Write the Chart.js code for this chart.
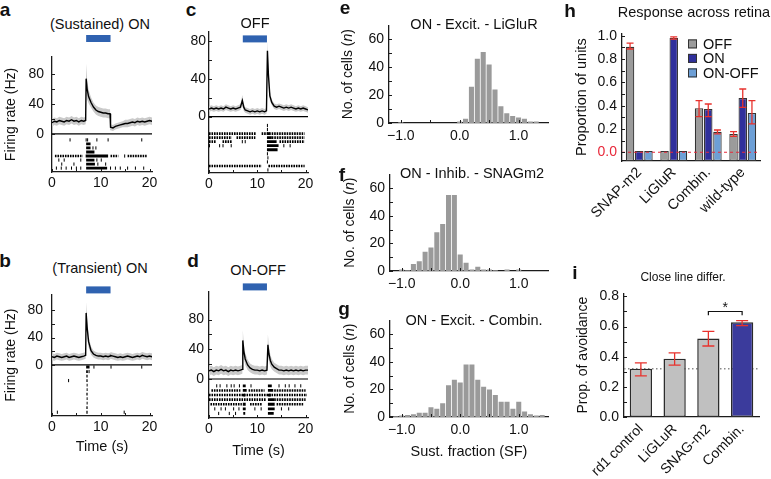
<!DOCTYPE html>
<html>
<head>
<meta charset="utf-8">
<title>Retina responses</title>
<script src="https://cdn.jsdelivr.net/npm/chart.js@4.4.1/dist/chart.umd.min.js"></script>
<style>
  html, body { margin: 0; padding: 0; background: #fff; }
  #fig { position: relative; width: 771px; height: 479px; overflow: hidden;
         font-family: "Liberation Sans", Arial, Helvetica, sans-serif; color: #111; }
  #fig canvas { position: absolute; }
  .t { position: absolute; transform: translate(-50%, -50%); white-space: nowrap; font-size: 14.5px; line-height: 1; }
  .p { position: absolute; transform: translate(-50%, -50%); font-size: 19px; font-weight: bold; line-height: 1; }
</style>
</head>
<body>
<div id="fig">
  <canvas id="cA"></canvas><canvas id="cB"></canvas><canvas id="cC"></canvas><canvas id="cD"></canvas>
  <canvas id="cE"></canvas><canvas id="cF"></canvas><canvas id="cG"></canvas>
  <canvas id="cH"></canvas><canvas id="cI"></canvas>

  <div class="p" style="left:5px;top:9px">a</div>
  <div class="p" style="left:5px;top:260px">b</div>
  <div class="p" style="left:191px;top:9px">c</div>
  <div class="p" style="left:193px;top:260px">d</div>
  <div class="p" style="left:345px;top:7px">e</div>
  <div class="p" style="left:342px;top:174px">f</div>
  <div class="p" style="left:344px;top:308px">g</div>
  <div class="p" style="left:570px;top:10px">h</div>
  <div class="p" style="left:575px;top:272px">i</div>

  <div class="t" style="left:100px;top:24px">(Sustained) ON</div>
  <div class="t" style="left:100px;top:268px">(Transient) ON</div>
  <div class="t" style="left:255px;top:23px">OFF</div>
  <div class="t" style="left:258px;top:270px">ON-OFF</div>
  <div class="t" style="left:474px;top:24px">ON - Excit. - LiGluR</div>
  <div class="t" style="left:472px;top:173px">ON - Inhib. - SNAGm2</div>
  <div class="t" style="left:474px;top:320px">ON - Excit. - Combin.</div>
  <div class="t" style="left:694px;top:12px">Response across retina</div>
  <div class="t" style="left:683px;top:277px;font-size:12px">Close line differ.</div>
</div>

<script>
// ---------- data: firing-rate panels (a-d) ----------
const stimulus = [7, 12];
const traceXTicks = [0, 5, 10, 15, 20];
const traceYTicks = [0, 20, 40, 60, 80];

const abTime = [0,0.5,1,1.5,2,2.5,3,3.5,4,4.5,5,5.5,6,6.5,6.9,7,7.2,7.5,8,8.5,9,9.5,10,10.5,11,11.5,11.9,12,
                12.5,13,13.5,14,14.5,15,15.5,16,16.5,17,17.5,18,18.5,19,19.5,20,20.5];
const aRate = [15,17,16,18,17,16,18,17,19,17,18,16,18,17,18,74,60,50,42,36,32,30,29,28,28,27,27,9,
               8,10,11,12,13,14,14,15,16,15,17,16,17,16,17,18,17];
const aSd   = [5,5,5,5,5,5,5,5,5,5,5,5,5,5,5,20,14,9,7,6,6,6,6,6,6,6,6,4,
               4,4,4,4,4,5,5,5,5,5,5,5,5,5,5,5,5];
const bRate = [12,11,13,12,11,12,13,11,12,13,12,11,12,13,14,76,55,34,21,16,14,13,13,12,13,12,13,14,
               13,12,11,12,11,12,13,12,11,12,13,12,14,13,12,13,12];
const bSd   = [5,5,5,5,5,5,5,5,5,5,5,5,5,5,5,16,12,8,6,5,5,5,5,5,5,5,5,5,
               5,5,5,5,5,5,5,5,5,5,5,5,5,5,5,5,5];

const cTime = [0,0.5,1,1.5,2,2.5,3,3.5,4,4.5,5,5.5,6,6.5,6.9,7.2,7.5,8,8.5,9,9.5,10,10.5,11,11.5,11.9,
               12.1,12.3,12.6,13,13.5,14,14.5,15,15.5,16,16.5,17,17.5,18,18.5,19,19.5,20,20.5];
const cRate = [8,9,8,9,8,9,8,10,9,8,9,8,9,10,17,10,7,6,5,6,5,6,5,6,5,6,
               70,45,22,15,11,10,11,10,9,10,9,10,9,8,9,8,9,8,7];
const cSd   = [3,3,3,3,3,3,3,3,3,3,3,3,3,3,6,4,3,3,3,3,3,3,3,3,3,3,
               10,8,5,3,3,3,3,3,3,3,3,3,3,3,3,3,3,3,3];

const dTime = [0,0.5,1,1.5,2,2.5,3,3.5,4,4.5,5,5.5,6,6.5,6.9,7,7.2,7.5,8,8.5,9,9.5,10,10.5,11,11.5,12,
               12.2,12.4,12.7,13,13.5,14,14.5,15,15.5,16,16.5,17,17.5,18,18.5,19,19.5,20,20.5];
const dRate = [11,12,10,12,11,13,11,12,10,12,11,12,11,12,13,52,38,27,19,15,13,12,12,11,12,11,12,
               46,34,25,20,16,14,12,12,11,12,11,12,11,12,11,12,11,12,12];
const dSd   = [6,6,6,6,6,6,6,6,6,6,6,6,6,6,6,14,10,8,7,6,6,6,6,6,6,6,6,
               14,10,8,7,6,6,6,6,6,6,6,6,6,6,6,6,6,6,6];

// raster trials: [row, time] spikes, [row, start, end] bursts and dense firing
const aSpikes = [[0,3.7],[0,7.0],[0,7.3],[0,9.2],[0,11.5],[0,18.4],[2,8.4],[2,9.0],[4,14.9],
                 [5,1.4],[5,2.5],[5,5.9],[5,9.2],[5,10.1],[6,2.0],[6,4.5],[6,9.4],[6,11.0],
                 [7,0.9],[7,1.9],[7,2.9],[7,4.0],[7,5.0],[7,5.9],[7,12.0],[7,13.0],[7,14.0],[7,15.5],[7,17.1],[7,18.8]];
const aBursts = [[1,7.0,7.9],[2,7.0,7.9],[3,7.0,8.7],[4,6.9,11.5],[5,7.0,8.7],[6,7.0,8.8],[7,7.0,11.3]];
const aDense  = [[4,0.6,6.3],[4,12.0,13.6],[4,15.5,19.4]];

const bSpikes = [[0,8.6],[0,12.1],[0,18.4],[1,7.6],[3,3.4],[10,1.1],[10,14.8]];
const bBursts = [[0,7.0,7.7],[1,7.0,7.35],[2,7.05,7.3],[3,7.05,7.3],[4,7.1,7.3],[5,7.1,7.3],[6,7.05,7.3],
                 [7,7.1,7.3],[8,7.1,7.3],[9,7.05,7.3],[10,7.05,7.3]];
const bDense  = [];

const cSpikes = [[0,12.1],[1,12.1],[4,6.9],[4,7.5],[5,0.1],[5,2.2],[5,2.9],[5,4.6],[5,15.5],[5,16.8],
                 [7,12.1],[8,12.2],[9,12.1],[11,12.2]];
const cBursts = [[2,12.0,12.6],[3,12.0,13.0],[4,12.0,14.0],[5,12.0,14.4],[6,12.0,14.2]];
const cDense  = [[2,0,9.8],[2,10.9,19.8],[3,0,4.7],[3,5.7,9.6],[3,13.0,19.8],[4,0,1.4],[4,2.8,4.8],
                 [4,14.6,19.8],[10,0,10.9],[10,12.3,19.8]];

const dSpikes = [[0,1.6],[0,2.3],[0,3.7],[0,4.6],[0,5.2],[0,6.3],[0,8.7],[0,14.5],[0,15.8],[0,16.6],[0,17.8],[0,19.0],
                 [5,1.2],[5,2.5],[5,3.4],[5,5.1],[5,6.2],[5,9.5],[5,10.8],[5,15.0],[5,16.5],[6,2.0],[6,4.2],[6,5.5]];
const dBursts = [[0,7.0,7.6],[0,12.2,13.0],[1,7.0,7.8],[1,12.2,13.3],[2,7.0,7.5],[2,12.2,12.8],[3,12.2,13.5],
                 [4,7.0,7.6],[4,12.2,13.6],[5,7.0,7.6],[5,12.2,13.6],[6,7.1,7.5],[6,12.2,13.4]];
const dDense  = [[1,0.5,6.5],[1,8.2,11.5],[1,13.5,20],[2,0,20.3],[3,0,11.8],[3,13.5,20],[4,0.3,6.8],[4,8.5,11],[4,14,19.5]];

// ---------- data: sustained-fraction histograms (e-g) ----------
const binCenters = [-1.1,-1.0,-0.9,-0.8,-0.7,-0.6,-0.5,-0.4,-0.3,-0.2,-0.1,0.0,0.1,0.2,0.3,0.4,0.5,0.6,0.7,0.8,0.9,1.0,1.1,1.2,1.3,1.4];
const eCounts = [0,0.5,0,0,0,0,0,0,0,0,0,1,3,26,46,51,42,24,12,7,5,4,3,1,1,0];
const fCounts = [0,1,0.5,5,7,14,17,28,34,55,55,12,6,1,3,1,1,0.5,0,1,0,1,0,0,0,0];
const gCounts = [0.5,1,1.5,2,3,3,7,6,10,23,27,25,38,38,27,22,20,16,11,11,6,11,4,2,1,1.5];
const histXTicks = [-1, -0.5, 0, 0.5, 1];
const histYTicks = [0, 10, 20, 30, 40, 50, 60];

// ---------- data: proportion of units (h) ----------
const hGroups  = ['SNAP-m2', 'LiGluR', 'Combin.', 'wild-type'];
const hOff     = [0.905, 0.01, 0.377, 0.157];
const hOffLo   = [0.886, null, 0.306, 0.137];
const hOffHi   = [0.937, null, 0.443, 0.177];
const hOn      = [0.01, 0.98, 0.371, 0.466];
const hOnLo    = [null, 0.971, 0.306, 0.386];
const hOnHi    = [null, 0.991, 0.414, 0.543];
const hOnOff   = [0.01, 0.01, 0.175, 0.337];
const hOnOffLo = [null, null, 0.157, 0.243];
const hOnOffHi = [null, null, 0.191, 0.443];
const hYTicks  = [0, 0.1, 0.2, 0.3, 0.4, 0.5, 0.6, 0.7, 0.8, 0.9, 1.0];

// ---------- data: avoidance (i) ----------
const iGroups = ['rd1 control', 'LiGLuR', 'SNAG-m2', 'Combin.'];
const iVal    = [0.32, 0.387, 0.52, 0.628];
const iLo     = [0.273, 0.344, 0.471, 0.606];
const iHi     = [0.359, 0.426, 0.568, 0.639];
const iChance = 0.32;
const iYTicks = [0, 0.1, 0.2, 0.3, 0.4, 0.5, 0.6, 0.7, 0.8];

// ---------- setup ----------
const FONT = '"Liberation Sans", Arial, Helvetica, sans-serif';
Chart.defaults.font.family = FONT;
Chart.defaults.font.size = 14;
Chart.defaults.color = '#111';
Chart.defaults.animation = false;
Chart.defaults.plugins.legend.display = false;
Chart.defaults.plugins.tooltip.enabled = false;
const AXIS = { color: '#1b1b1b', width: 1.3 };

// horizontal reference line (zero line, chance level)
const refLine = {
  id: 'refLine',
  draw(chart, o) {
    const { ctx, chartArea: a, scales: { y } } = chart;
    const py = y.getPixelForValue(o.value);
    ctx.save();
    ctx.strokeStyle = o.color;
    ctx.lineWidth = o.width || 1;
    ctx.setLineDash(o.dash || []);
    ctx.beginPath(); ctx.moveTo(a.left, py); ctx.lineTo(a.right, py); ctx.stroke();
    ctx.restore();
  },
  beforeDatasetsDraw(chart, args, o) { if (o.value !== undefined && o.behind) this.draw(chart, o); },
  afterDatasetsDraw(chart, args, o) { if (o.value !== undefined && !o.behind) this.draw(chart, o); }
};

// stimulus bar above the trace
const stimBar = {
  id: 'stimBar',
  afterDraw(chart, args, o) {
    if (!o.range) return;
    const { ctx, chartArea: a, scales: { x } } = chart;
    const x0 = x.getPixelForValue(o.range[0]), x1 = x.getPixelForValue(o.range[1]);
    ctx.save();
    ctx.fillStyle = o.color;
    ctx.fillRect(x0, a.top + o.offset, x1 - x0, o.height);
    ctx.restore();
  }
};

// small tick marks pointing into the plot
const inTicks = {
  id: 'inTicks',
  afterDraw(chart, args, o) {
    if (!o.len) return;
    const { ctx, chartArea: a } = chart;
    ctx.save();
    ctx.strokeStyle = '#1b1b1b';
    ctx.lineWidth = 1;
    ['x', 'y'].forEach(id => {
      const s = chart.scales[id];
      if (!s || s.type !== 'linear') return;
      s.ticks.forEach(t => {
        const p = Math.round(s.getPixelForValue(t.value)) + 0.5;
        ctx.beginPath();
        if (id === 'x') { ctx.moveTo(p, a.bottom); ctx.lineTo(p, a.bottom - o.len); }
        else { ctx.moveTo(a.left, p); ctx.lineTo(a.left + o.len, p); }
        ctx.stroke();
      });
    });
    ctx.restore();
  }
};

// y-axis title with mixed upright / italic parts
const richTitle = {
  id: 'richTitle',
  afterDraw(chart, args, o) {
    if (!o.parts) return;
    const { ctx, chartArea: a, scales: { y } } = chart;
    const fonts = o.parts.map(p => (p.italic ? 'italic ' : '') + o.size + 'px ' + FONT);
    ctx.save();
    const widths = o.parts.map((p, i) => { ctx.font = fonts[i]; return ctx.measureText(p.text).width; });
    const total = widths.reduce((s, w) => s + w, 0);
    ctx.translate(y.left + o.offset, (a.top + a.bottom) / 2);
    ctx.rotate(-Math.PI / 2);
    ctx.fillStyle = '#111';
    ctx.textBaseline = 'middle';
    let x = -total / 2;
    o.parts.forEach((p, i) => { ctx.font = fonts[i]; ctx.fillText(p.text, x, 0); x += widths[i]; });
    ctx.restore();
  }
};

// red error bars read from dataset errLo / errHi
const errBars = {
  id: 'errBars',
  afterDatasetsDraw(chart, args, o) {
    if (!o.cap) return;
    const { ctx, scales: { y } } = chart;
    ctx.save();
    ctx.strokeStyle = o.color;
    ctx.lineWidth = 1.3;
    chart.data.datasets.forEach((ds, i) => {
      if (!ds.errLo) return;
      chart.getDatasetMeta(i).data.forEach((bar, j) => {
        if (ds.errLo[j] == null) return;
        const yl = y.getPixelForValue(ds.errLo[j]), yh = y.getPixelForValue(ds.errHi[j]), h = o.cap / 2;
        ctx.beginPath();
        ctx.moveTo(bar.x, yl); ctx.lineTo(bar.x, yh);
        ctx.moveTo(bar.x - h, yl); ctx.lineTo(bar.x + h, yl);
        ctx.moveTo(bar.x - h, yh); ctx.lineTo(bar.x + h, yh);
        ctx.stroke();
      });
    });
    ctx.restore();
  }
};

// legend drawn inside the plot area
const boxLegend = {
  id: 'boxLegend',
  afterDraw(chart, args, o) {
    if (!o.step) return;
    const { ctx, chartArea: a } = chart;
    ctx.save();
    ctx.font = '14.5px ' + FONT;
    ctx.textBaseline = 'middle';
    chart.data.datasets.forEach((ds, i) => {
      const x = a.left + o.x, y = a.top + o.y + i * o.step;
      ctx.fillStyle = ds.backgroundColor;
      ctx.fillRect(x, y, o.box, o.box);
      ctx.strokeStyle = ds.borderColor;
      ctx.lineWidth = 1;
      ctx.strokeRect(x + 0.5, y + 0.5, o.box - 1, o.box - 1);
      ctx.fillStyle = '#111';
      ctx.fillText(ds.label, x + o.box + 6, y + o.box / 2 + 1);
    });
    ctx.restore();
  }
};

// significance bracket
const bracket = {
  id: 'bracket',
  afterDatasetsDraw(chart, args, o) {
    if (o.text === undefined) return;
    const { ctx, scales: { x, y } } = chart;
    const x0 = x.getPixelForValue(o.from), x1 = x.getPixelForValue(o.to);
    const yt = y.getPixelForValue(o.value), yb = y.getPixelForValue(o.value - o.drop);
    ctx.save();
    ctx.strokeStyle = '#111';
    ctx.lineWidth = 1.2;
    ctx.beginPath();
    ctx.moveTo(x0, yb); ctx.lineTo(x0, yt); ctx.lineTo(x1, yt); ctx.lineTo(x1, yb);
    ctx.stroke();
    ctx.font = '14px ' + FONT;
    ctx.fillStyle = '#111';
    ctx.textAlign = 'center';
    ctx.textBaseline = 'middle';
    ctx.fillText(o.text, (x0 + x1) / 2, y.getPixelForValue(o.textAt));
    ctx.restore();
  }
};

Chart.register(refLine, stimBar, inTicks, richTitle, errBars, boxLegend, bracket);

// put canvas so that the plot area lands on the given page box [left, top, right, bottom]
function setCanvas(id, area, w, h, padTop, padRight) {
  const c = document.getElementById(id);
  const left = area[0] - w, top = area[1] - padTop;
  c.width = Math.round(area[2] + padRight - left);
  c.height = Math.round(area[3] + h - top);
  c.style.left = left + 'px';
  c.style.top = top + 'px';
  return c.getContext('2d');
}

function linAxis(min, max, ticks, label, o) {
  return {
    type: 'linear', min: min, max: max, offset: false,
    afterBuildTicks: s => { s.ticks = ticks.map(v => ({ value: v })); },
    afterFit: s => { if (o.w) s.width = o.w; if (o.h) s.height = o.h; },
    grid: { display: false, drawTicks: false },
    border: AXIS,
    ticks: { callback: label, padding: o.pad, color: o.color || '#111', autoSkip: false, maxRotation: 0 },
    title: o.title ? { display: true, text: o.title, color: '#111', font: { size: o.titleSize || 14.5 },
                       padding: o.titlePad || { top: 4, bottom: 4 } } : { display: false }
  };
}

function rasterSets(spikes, bursts, dense, rowTop, rowStep) {
  const yOf = r => -(rowTop + r * rowStep);
  const seg = list => list.flatMap(([r, t0, t1]) => [{ x: t0, y: yOf(r) }, { x: t1, y: yOf(r) }, { x: t1, y: null }]);
  return [
    { data: seg(bursts), borderColor: '#000', borderWidth: 2.8, pointRadius: 0, spanGaps: false, order: 0 },
    { data: seg(dense), borderColor: '#000', borderWidth: 2.6, borderDash: [1.6, 0.9], pointRadius: 0, spanGaps: false, order: 0 },
    { type: 'scatter', data: spikes.map(([r, t]) => ({ x: t, y: yOf(r) })), showLine: false,
      pointStyle: 'line', pointRotation: 90, pointRadius: 1.6, pointBorderColor: '#000', pointBorderWidth: 1, order: 0 }
  ];
}

function traceChart(id, area, p) {
  const ctx = setCanvas(id, area, p.w, p.h, p.padTop, 10);
  const pts = vals => p.time.map((t, i) => ({ x: t, y: vals[i] }));
  return new Chart(ctx, {
    type: 'line',
    data: { datasets: [
      { data: pts(p.rate), borderColor: '#000', borderWidth: 1.4, pointRadius: 0, order: 1 },
      { data: pts(p.rate.map((r, i) => r + p.sd[i])), borderColor: 'rgba(0,0,0,0)', pointRadius: 0,
        fill: '+1', backgroundColor: '#cacaca', order: 2 },
      { data: pts(p.rate.map((r, i) => r - p.sd[i])), borderColor: 'rgba(0,0,0,0)', pointRadius: 0, order: 2 },
      ...rasterSets(p.spikes, p.bursts, p.dense, p.rowTop, p.rowStep)
    ] },
    options: {
      responsive: false,
      layout: { padding: { top: p.padTop, right: 10, left: 0, bottom: 0 } },
      scales: {
        x: linAxis(0, 20.5, traceXTicks, v => (v % 10 === 0 ? v : ''), { h: p.h, pad: 3, title: p.xTitle }),
        y: linAxis(p.yMin, p.yMax, traceYTicks, v => (v % 40 === 0 ? v : ''),
                   { w: p.w, pad: p.yPad, title: p.yTitle, titleSize: 14, titlePad: { top: 3, bottom: 0 } })
      },
      plugins: {
        refLine: { value: 0, color: '#000', width: 1.2 },
        stimBar: { range: stimulus, offset: p.stimOff, height: 7, color: '#2f62b0' },
        inTicks: { len: 3 }
      }
    }
  });
}

const fmtSF = v => (Number.isInteger(v) ? (v < 0 ? '\u2212' : '') + Math.abs(v).toFixed(1) : '');

function histChart(id, area, counts, p) {
  const ctx = setCanvas(id, area, p.w, p.h, 10, 8);
  return new Chart(ctx, {
    type: 'bar',
    data: { datasets: [{
      data: binCenters.map((b, i) => ({ x: b, y: counts[i] })),
      backgroundColor: '#9a9a9a', barPercentage: 0.86, categoryPercentage: 1
    }] },
    options: {
      responsive: false,
      layout: { padding: { top: 10, right: 8, left: 0, bottom: 0 } },
      scales: {
        x: linAxis(-1.2, 1.5, histXTicks, fmtSF, { h: p.h, pad: 5, title: p.xTitle }),
        y: linAxis(0, 70, histYTicks, v => (v % 20 === 0 ? v : ''), { w: p.w, pad: 5 })
      },
      plugins: {
        inTicks: { len: 3 },
        richTitle: { size: 14, offset: 12.4,
                     parts: [{ text: 'No. of cells (' }, { text: 'n', italic: true }, { text: ')' }] }
      }
    }
  });
}

// ---------- panels a-d ----------
traceChart('cA', [52, 57, 152, 172], { time: abTime, rate: aRate, sd: aSd, spikes: aSpikes, bursts: aBursts, dense: aDense,
  rowTop: 8, rowStep: 5.4, yMin: -51, yMax: 103, w: 52, h: 25, padTop: 25, yPad: 8, stimOff: -22,
  yTitle: 'Firing rate (Hz)' });
traceChart('cB', [52, 287, 152, 416], { time: abTime, rate: bRate, sd: bSd, spikes: bSpikes, bursts: bBursts, dense: bDense,
  rowTop: 3, rowStep: 6.6, yMin: -74.5, yMax: 103, w: 52, h: 44, padTop: 10, yPad: 9, stimOff: -8,
  yTitle: 'Firing rate (Hz)', xTitle: 'Time (s)' });
traceChart('cC', [209, 30, 308.4, 173], { time: cTime, rate: cRate, sd: cSd, spikes: cSpikes, bursts: cBursts, dense: cDense,
  rowTop: 9.5, rowStep: 4.3, yMin: -60, yMax: 90.5, w: 40, h: 25, padTop: 10, yPad: 3, stimOff: 4 });
traceChart('cD', [209, 288, 308.4, 418], { time: dTime, rate: dRate, sd: dSd, spikes: dSpikes, bursts: dBursts, dense: dDense,
  rowTop: 9.2, rowStep: 6.2, yMin: -52.5, yMax: 118, w: 40, h: 46, padTop: 10, yPad: 5, stimOff: -8,
  xTitle: 'Time (s)' });

// ---------- panels e-g ----------
histChart('cE', [389, 22, 548, 123], eCounts, { w: 53, h: 25 });
histChart('cF', [390, 171, 548, 271], fCounts, { w: 52, h: 25 });
histChart('cG', [390, 317, 548, 417], gCounts, { w: 52, h: 48, xTitle: 'Sust. fraction (SF)' });

// ---------- panel h ----------
const hMin = -0.075;
const hLabel = v => (Math.round(v * 10) % 2 === 0 ? v.toFixed(1) : '');
const hAxisY = linAxis(hMin, 1.02, hYTicks, hLabel, { w: 53, pad: 5, title: 'Proportion of units' });
hAxisY.ticks.color = c => (c.tick && c.tick.value === 0 ? '#e8283a' : '#111');

new Chart(setCanvas('cH', [622, 30, 760, 161], 53, 62, 10, 8), {
  type: 'bar',
  data: {
    labels: hGroups,
    datasets: [
      { label: 'OFF', data: hOff, errLo: hOffLo, errHi: hOffHi, backgroundColor: '#9b9b9b' },
      { label: 'ON', data: hOn, errLo: hOnLo, errHi: hOnHi, backgroundColor: '#30309c' },
      { label: 'ON-OFF', data: hOnOff, errLo: hOnOffLo, errHi: hOnOffHi, backgroundColor: '#6d9fd6' }
    ].map(d => Object.assign(d, { borderColor: '#333', borderWidth: 1.2, borderSkipped: false, base: hMin,
                                  barPercentage: 0.92, categoryPercentage: 0.8 }))
  },
  options: {
    responsive: false,
    layout: { padding: { top: 10, right: 8, left: 0, bottom: 0 } },
    scales: {
      x: { type: 'category', offset: true, grid: { display: false, drawTicks: false }, border: AXIS,
           afterFit: s => { s.height = 62; },
           ticks: { minRotation: 45, maxRotation: 45, padding: 3, autoSkip: false, color: '#111', font: { size: 14.5 } } },
      y: hAxisY
    },
    plugins: {
      refLine: { value: 0, color: '#e8283a', width: 1.2, dash: [3, 3] },
      errBars: { cap: 7, color: '#e8322d' },
      boxLegend: { x: 66, y: 6, step: 14.5, box: 9 },
      inTicks: { len: 3 }
    }
  }
});

// ---------- panel i ----------
new Chart(setCanvas('cI', [624, 290, 759, 417], 53, 62, 10, 8), {
  type: 'bar',
  data: {
    labels: iGroups,
    datasets: [{ label: 'Prop. of avoidance', data: iVal, errLo: iLo, errHi: iHi,
                 backgroundColor: ['#c0c0c0', '#c0c0c0', '#c0c0c0', '#3b3b9c'],
                 borderColor: '#2a2a2a', borderWidth: 1.5, borderSkipped: false,
                 barPercentage: 0.66, categoryPercentage: 1 }]
  },
  options: {
    responsive: false,
    layout: { padding: { top: 10, right: 8, left: 0, bottom: 0 } },
    scales: {
      x: { type: 'category', offset: true, grid: { display: false, drawTicks: false }, border: AXIS,
           afterFit: s => { s.height = 62; },
           ticks: { minRotation: 45, maxRotation: 45, padding: 4, autoSkip: false, color: '#111' } },
      y: linAxis(0, 0.82, iYTicks, v => (Math.round(v * 10) % 2 === 0 ? v.toFixed(1) : ''),
                 { w: 53, pad: 5, title: 'Prop. of avoidance', titleSize: 14 })
    },
    plugins: {
      refLine: { value: iChance, color: '#8a8a8a', width: 1.6, dash: [1.5, 2.5], behind: true },
      errBars: { cap: 12, color: '#e8322d' },
      bracket: { from: 2, to: 3, value: 0.70, drop: 0.025, text: '*', textAt: 0.725 },
      inTicks: { len: 3 }
    }
  }
});
</script>
</body>
</html>
